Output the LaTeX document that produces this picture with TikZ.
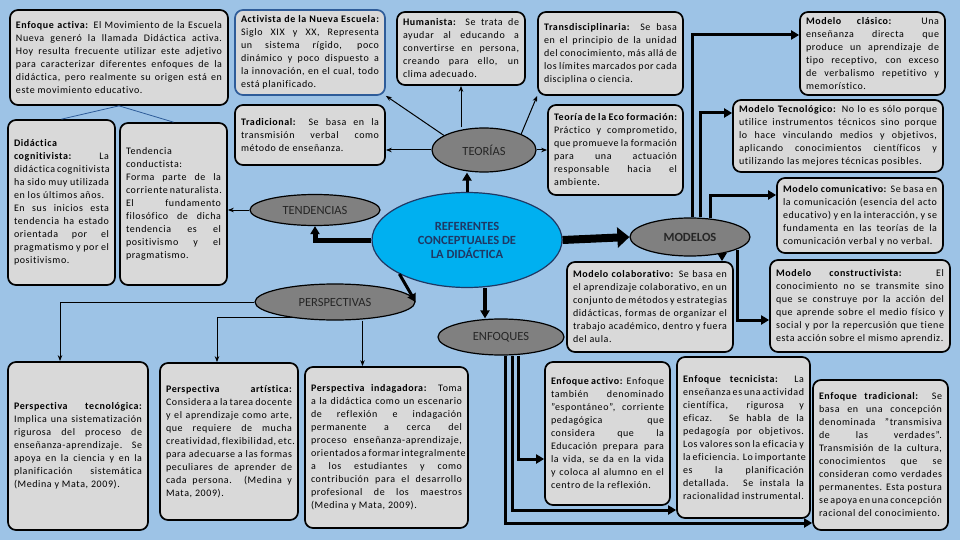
\documentclass[tikz,border=0pt]{standalone}
\usepackage{fontspec}
\setmainfont{Carlito}
\usetikzlibrary{arrows.meta, calc, positioning, shapes.geometric}
\definecolor{bgblue}{HTML}{9DC3E6}
\definecolor{boxgray}{HTML}{D9D9D9}
\definecolor{ellgray}{HTML}{808080}
\definecolor{refblue}{HTML}{00B0F0}
\definecolor{navy}{HTML}{1F3864}
\definecolor{linkblue}{HTML}{2E5C99}
\newcommand\cardfont{\fontsize{10}{13}\selectfont\addfontfeature{LetterSpace=6, Ligatures=NoCommon}\hyphenpenalty=10000\exhyphenpenalty=10000}
\newcommand\topicfont{\fontsize{12.5}{14}\selectfont}
\newcommand\lbl[1]{\textbf{#1}}
\tikzset{
  >={Stealth[length=6pt]},
  every picture/.style={line join=miter},
  card/.style={draw=black, line width=1.7pt, rounded corners=8pt, fill=boxgray,
    align=justify, inner xsep=6pt, inner ysep=3pt, font=\cardfont},
  topic/.style={ellipse, draw=black, line width=1.2pt, fill=ellgray, inner sep=0pt,
    font=\topicfont, text=black!85},
  link/.style={->, line width=1pt},
  fatlink/.style={-{Triangle[length=8pt, width=9pt]}, line width=3pt},
  hugelink/.style={-{Triangle[length=12pt, width=20pt]}, line width=8pt},
  twig/.style={linkblue, line width=0.8pt},
}

\begin{document}
\begin{tikzpicture}[x=1pt, y=-1pt]
  \useasboundingbox[fill=bgblue] (0,0) rectangle (960,540);
  % left column: tendencias
  \node[card, text width=206pt, minimum height=95pt] (enfact) at (119,57.5)
    {\lbl{Enfoque activa:} El Movimiento de la Escuela Nueva generó la llamada Didáctica activa. Hoy resulta frecuente utilizar este adjetivo para caracterizar diferentes enfoques de la didáctica, pero realmente su origen está en este movimiento educativo.};
  \node[card, text width=95pt, minimum height=165pt] (cognit) at (61.5,202.5)
    {\lbl{Didáctica cognitivista:} La didáctica cognitivista ha sido muy utilizada en los últimos años.\\ En sus inicios esta tendencia ha estado orientada por el pragmatismo y por el positivismo.};
  \node[card, text width=95pt, minimum height=162pt] (conduct) at (173.5,204)
    {Tendencia conductista: Forma parte de la corriente naturalista. El fundamento filosófico de dicha tendencia es el positivismo y el pragmatismo.};
  % teorias
  \node[card, draw=linkblue, text width=138pt, minimum height=85pt] (activ) at (310,52.5)
    {\lbl{Activista de la Nueva Escuela:} Siglo XIX y XX, Representa un sistema rígido, poco dinámico y poco dispuesto a la innovación, en el cual, todo está planificado.};
  \node[card, text width=138pt, minimum height=60pt] (tradic) at (310,135)
    {\lbl{Tradicional:} Se basa en la transmisión verbal como método de enseñanza.};
  \node[card, text width=116pt, minimum height=73pt] (human) at (461,48.5)
    {\lbl{Humanista:} Se trata de ayudar al educando a convertirse en persona, creando para ello, un clima adecuado.};
  \node[card, text width=133pt, minimum height=83pt] (transd) at (610.5,53.5)
    {\lbl{Transdisciplinaria:} Se basa en el principio de la unidad del conocimiento, más allá de los límites marcados por cada disciplina o ciencia.};
  \node[card, text width=123pt, minimum height=90pt] (eco) at (615.5,150)
    {\lbl{Teoría de la Eco formación:} Práctico y comprometido, que promueve la formación para una actuación responsable hacia el ambiente.};
  % modelos
  \node[card, text width=133pt, minimum height=83pt] (clasico) at (872.5,53.5)
    {\lbl{Modelo clásico:} Una enseñanza directa que produce un aprendizaje de tipo receptivo, con exceso de verbalismo repetitivo y memorístico.};
  \node[card, text width=198pt, minimum height=72pt] (tecnol) at (838,136)
    {\lbl{Modelo Tecnológico:} No lo es sólo porque utilice instrumentos técnicos sino porque lo hace vinculando medios y objetivos, aplicando conocimientos científicos y utilizando las mejores técnicas posibles.};
  \node[card, text width=154pt, minimum height=75pt] (comunic) at (860,215.5)
    {\lbl{Modelo comunicativo:} Se basa en la comunicación (esencia del acto educativo) y en la interacción, y se fundamenta en las teorías de la comunicación verbal y no verbal.};
  \node[card, text width=154pt, minimum height=90pt] (colab) at (650,307)
    {\lbl{Modelo colaborativo:} Se basa en el aprendizaje colaborativo, en un conjunto de métodos y estrategias didácticas, formas de organizar el trabajo académico, dentro y fuera del aula.};
  \node[card, text width=168pt, minimum height=92pt] (constr) at (860,306)
    {\lbl{Modelo constructivista:} El conocimiento no se transmite sino que se construye por la acción del que aprende sobre el medio físico y social y por la repercusión que tiene esta acción sobre el mismo aprendiz.};
  % perspectivas
  \node[card, text width=128pt, minimum height=168pt] (ptecno) at (78,446)
    {\lbl{Perspectiva tecnológica:} Implica una sistematización rigurosa del proceso de enseñanza-aprendizaje. Se apoya en la ciencia y en la planificación sistemática (Medina y Mata, 2009).};
  \node[card, text width=126pt, minimum height=157pt] (partis) at (229,441.5)
    {\lbl{Perspectiva artística:} Considera a la tarea docente y el aprendizaje como arte, que requiere de mucha creatividad, flexibilidad, etc. para adecuarse a las formas peculiares de aprender de cada persona. (Medina y Mata, 2009).};
  \node[card, text width=151pt, minimum height=161pt] (pindag) at (386.5,447.5)
    {\lbl{Perspectiva indagadora:} Toma a la didáctica como un escenario de reflexión e indagación permanente a cerca del proceso enseñanza-aprendizaje, orientados a formar integralmente a los estudiantes y como contribución para el desarrollo profesional de los maestros (Medina y Mata, 2009).};
  % enfoques
  \node[card, text width=113pt, minimum height=143pt] (eactivo) at (607.5,433.5)
    {\lbl{Enfoque activo:} Enfoque también denominado "espontáneo”, corriente pedagógica que considera que la Educación prepara para la vida, se da en la vida y coloca al alumno en el centro de la reflexión.};
  \node[card, text width=121pt, minimum height=161pt] (etecnic) at (743.5,437.5)
    {\lbl{Enfoque tecnicista:} La enseñanza es una actividad científica, rigurosa y eficaz. Se habla de la pedagogía por objetivos. Los valores son la eficacia y la eficiencia. Lo importante es la planificación detallada. Se instala la racionalidad instrumental.};
  \node[card, text width=123pt, minimum height=150pt] (etradic) at (880.5,455)
    {\lbl{Enfoque tradicional:} Se basa en una concepción denominada "transmisiva de las verdades”. Transmisión de la cultura, conocimientos que se consideran como verdades permanentes. Esta postura se apoya en una concepción racional del conocimiento.};
  % central ellipses
  \node[topic, minimum width=104pt, minimum height=44pt] (teo) at (484,150) {TEORÍAS};
  \node[topic, minimum width=130pt, minimum height=31pt] (tend) at (315,210) {TENDENCIAS};
  \node[topic, minimum width=120pt, minimum height=38pt, font=\topicfont\bfseries] (mod) at (690,237) {MODELOS};
  \node[topic, minimum width=160pt, minimum height=36pt] (persp) at (335,302) {PERSPECTIVAS};
  \node[topic, minimum width=126pt, minimum height=36pt] (enf) at (501,337) {ENFOQUES};
  \node[topic, fill=refblue, draw=navy, text=navy, minimum width=190pt, minimum height=95pt,
    align=center, font=\topicfont\bfseries] (ref) at (467,240) {REFERENTES\\CONCEPTUALES DE\\LA DIDÁCTICA};
  % connectors from the centre
  \draw[fatlink] (ref.north) -- (ref.north |- teo.south);
  \draw[fatlink, line width=5pt] (ref.west) -| (tend.south);
  \draw[fatlink] (ref.south west) -- (persp.east);
  \draw[fatlink, line width=4pt] ([xshift=18pt]ref.south) -- ([xshift=18pt]ref.south |- enf.north);
  \draw[hugelink] (ref.east) -- (mod.west);
  % teorias
  \draw[link] (teo.north -| human.south) -- (human.south);
  \draw[link] (teo.west) -- (teo.west -| tradic.east);
  \draw[link] (teo.160) -- (activ.south east);
  \draw[link] (teo.north east) -- (transd.south west);
  \draw[link] (teo.east) -- (eco.west);
  % tendencias
  \draw[link] (tend.west) -- (tend.west -| conduct.east);
  \draw[twig] (enfact.south) -- (cognit.north);
  \draw[twig] (enfact.south) -- (conduct.north);
  % perspectivas
  \draw[link] (persp.west) -| ([xshift=-18pt]ptecno.north);
  \draw[link] (persp.200) -| ([xshift=-12pt]partis.north);
  \draw[link] ([xshift=-24pt]pindag.north |- persp.south) -- ([xshift=-24pt]pindag.north);
  % enfoques
  \draw[fatlink] ([xshift=17pt]enf.south) |- ([yshift=-25.5pt]eactivo.west);
  \draw[fatlink] ([xshift=11pt]enf.south) |- ([yshift=-72.5pt]etecnic.west);
  \draw[fatlink] ([xshift=4pt]enf.south) |- ([yshift=-68pt]etradic.west);
  % modelos
  \draw[fatlink] ([xshift=2pt]mod.north) |- ([yshift=18.5pt]clasico.west);
  \draw[fatlink] ([xshift=10pt]mod.north) |- ([yshift=23pt]tecnol.west);
  \draw[fatlink] ([xshift=20pt, yshift=-1pt]mod.north) |- ([yshift=20.5pt]comunic.west);
  \draw[fatlink, line width=2pt] ([xshift=32pt, yshift=3pt]mod.south) -- ([xshift=32pt]mod.south |- colab.north);
  \draw[fatlink] ([xshift=47pt, yshift=7pt]mod.south) |- ([yshift=-14pt]constr.west);
\end{tikzpicture}
\end{document}
